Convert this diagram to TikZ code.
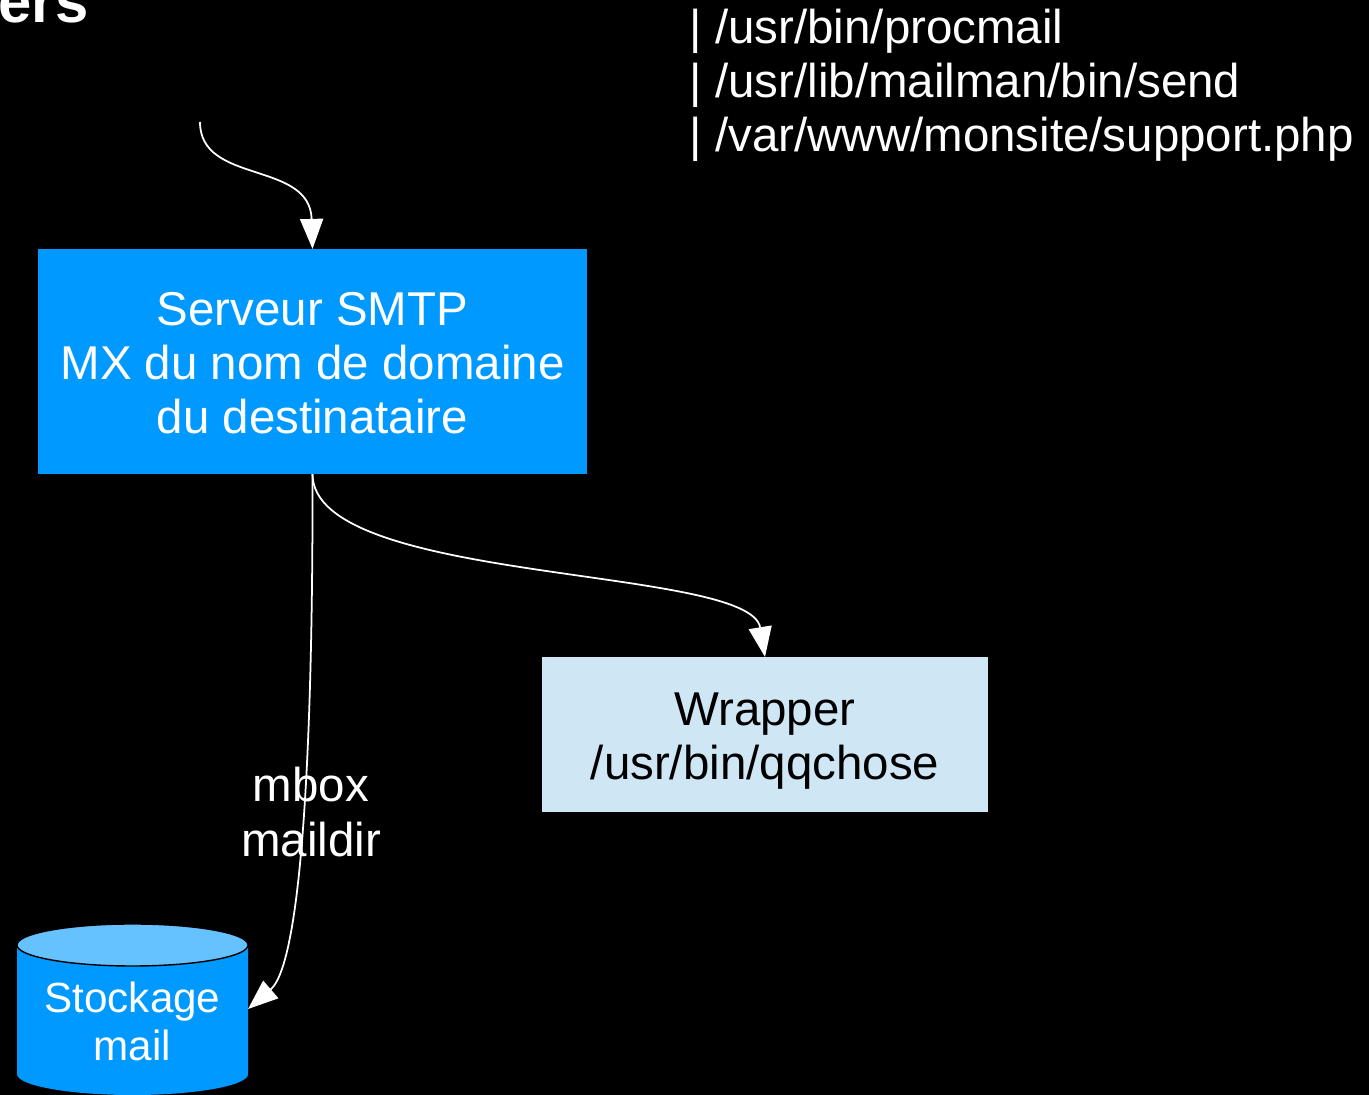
\documentclass[tikz,border=0pt]{standalone}
\usepackage{fontspec}
\setmainfont{Liberation Sans}
\usepackage{xcolor}
\usetikzlibrary{arrows.meta,positioning}
\definecolor{smtpblue}{HTML}{0099FF}
\definecolor{lidblue}{HTML}{66C2FF}
\definecolor{paleblue}{HTML}{CFE7F5}

\begin{document}
\begin{tikzpicture}[
  x=0.01cm, y=-0.01cm,
  font=\fontsize{13.5}{15.4}\selectfont,
  box/.style={rectangle, inner sep=0pt, outer sep=0pt, align=center},
  arr/.style={-{Triangle[length=3mm, width=2.3mm]}, draw=white, line width=0.5pt},
  note/.style={text=white, align=center},
]
\fill[black] (0,0) rectangle (1369,1095);
\useasboundingbox (0,0) rectangle (1369,1095);
\clip (0,0) rectangle (1369,1095);
% end of the slide title
\node[text=white, font=\fontsize{17}{20}\selectfont\bfseries, anchor=base east, inner sep=0pt] (title) at (89,23) {ers};
% delivery targets
\node[note, align=left, anchor=north west, inner sep=0pt] (pipes) at (689,8)
  {| /usr/bin/procmail\\| /usr/lib/mailman/bin/send\\| /var/www/monsite/support.php};
\coordinate (incoming) at (200,122);
\node[box, fill=smtpblue, text=white, minimum width=5.49cm, minimum height=2.25cm] (smtp) at (312.5,361.5)
  {\rule{0pt}{0.37cm}Serveur SMTP\\MX du nom de domaine\\du destinataire};
\node[box, fill=paleblue, text=black, minimum width=4.46cm, minimum height=1.55cm] (wrapper) at (765,734.5)
  {\rule{0pt}{0.46cm}Wrapper\\/usr/bin/qqchose};
% mailbox storage as a cylinder
\fill[smtpblue] (17,945) -- (17,1074) arc[start angle=180, end angle=360, x radius=1.155cm, y radius=0.21cm] -- (248,945) -- cycle;
\filldraw[fill=lidblue, draw=black, line width=0.4pt] (132.5,945) ellipse[x radius=1.155cm, y radius=0.21cm];
\node[box, text=white, font=\fontsize{12}{13.7}\selectfont, minimum width=2.31cm, minimum height=1.72cm] (store) at (132.5,1009)
  {\rule{0pt}{0.55cm}Stockage\\mail};
\node[note] (format) at (311,812) {mbox\\maildir};
\draw[arr] (incoming) .. controls (200,185) and (310,160) .. (smtp.north);
\draw[arr] (smtp.south) .. controls (313,585) and (750,565) .. (wrapper.north);
\draw[arr] (smtp.south) .. controls (313,700) and (305,960) .. (store.east);
\end{tikzpicture}
\end{document}
